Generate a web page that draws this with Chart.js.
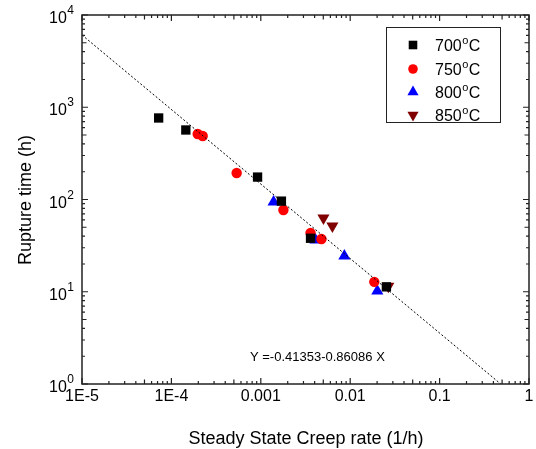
<!DOCTYPE html>
<html>
<head>
<meta charset="utf-8">
<script src="https://cdn.jsdelivr.net/npm/chart.js@4"></script>
<style>
  html, body { margin: 0; padding: 0; background: #fff; }
  #wrap { width: 536px; height: 449px; position: relative; }
</style>
</head>
<body>
<div id="wrap"><canvas id="creepChart" width="536" height="449"></canvas></div>
<script>
// data (creep rate in 1/h, rupture time in h)
const rate700 = [7.2e-5, 1.45e-4, 9.2e-4, 1.7e-3, 3.6e-3, 0.0254];
const time700 = [765, 567, 175, 96, 38, 11.3];
const rate750 = [1.97e-4, 2.24e-4, 5.37e-4, 1.79e-3, 3.6e-3, 4.77e-3, 0.0186];
const time750 = [513, 488, 194, 77, 43.4, 37.3, 12.8];
const rate800 = [1.39e-3, 4.09e-3, 8.6e-3, 0.0201];
const time800 = [94, 36.4, 24.4, 10.2];
const rate850 = [5.02e-3, 6.32e-3, 0.0267];
const time850 = [63, 51.6, 11.5];
const fitRate = [1e-5, 0.483];
const fitTime = [6070, 1];

const seriesLabels = ['700', '750', '800', '850'];
const xTickValues = [1e-5, 1e-4, 1e-3, 1e-2, 1e-1, 1];
const xTickLabels = ['1E-5', '1E-4', '0.001', '0.01', '0.1', '1'];
const yTickValues = [1, 10, 100, 1000, 10000];
const yTickExps = ['0', '1', '2', '3', '4'];
const equationText = 'Y =-0.41353-0.86086 X';

const FONT = '"Liberation Sans", Arial, sans-serif';

function pts(xs, ys) {
    return xs.map((x, i) => ({ x: x, y: ys[i] }));
}

const markerStyles = [
    { color: '#000000', style: 'rect', radius: 6.6, rotation: 0 },
    { color: '#ff0000', style: 'circle', radius: 5.2, rotation: 0 },
    { color: '#0000ff', style: 'triangle', radius: 7, rotation: 0 },
    { color: '#800000', style: 'triangle', radius: 7, rotation: 180 }
];

// frame, inward ticks, tick labels, titles, legend, equation
const decorPlugin = {
    id: 'decor',
    afterDraw(chart) {
        const ctx = chart.ctx;
        const xs = chart.scales.x;
        const ys = chart.scales.y;
        const a = chart.chartArea;
        ctx.save();
        ctx.strokeStyle = '#222';
        ctx.lineWidth = 1.5;
        ctx.strokeRect(a.left, a.top, a.right - a.left, a.bottom - a.top);

        ctx.lineWidth = 1.2;
        // x ticks (bottom & top)
        for (let d = -5; d <= 0; d++) {
            for (let m = 1; m <= 9; m++) {
                const v = m * Math.pow(10, d);
                if (v > 1) break;
                const px = xs.getPixelForValue(v);
                const len = m === 1 ? 6 : (m === 5 ? 4.5 : 3);
                ctx.beginPath();
                ctx.moveTo(px, a.bottom); ctx.lineTo(px, a.bottom - len);
                ctx.moveTo(px, a.top); ctx.lineTo(px, a.top + len);
                ctx.stroke();
            }
        }
        // y ticks (left & right)
        for (let d = 0; d <= 4; d++) {
            for (let m = 1; m <= 9; m++) {
                const v = m * Math.pow(10, d);
                if (v > 10000) break;
                const py = ys.getPixelForValue(v);
                const len = m === 1 ? 6 : (m === 5 ? 4.5 : 3);
                ctx.beginPath();
                ctx.moveTo(a.left, py); ctx.lineTo(a.left + len, py);
                ctx.moveTo(a.right, py); ctx.lineTo(a.right - len, py);
                ctx.stroke();
            }
        }

        ctx.fillStyle = '#000';
        // x tick labels
        ctx.font = '16px ' + FONT;
        ctx.textAlign = 'center';
        ctx.textBaseline = 'alphabetic';
        xTickValues.forEach((v, i) => {
            ctx.fillText(xTickLabels[i], xs.getPixelForValue(v), 401);
        });
        // y tick labels 10^n
        yTickValues.forEach((v, i) => {
            const py = ys.getPixelForValue(v);
            ctx.font = '12px ' + FONT;
            const ew = ctx.measureText(yTickExps[i]).width;
            ctx.textAlign = 'right';
            ctx.fillText(yTickExps[i], 74, py - 1);
            ctx.font = '16px ' + FONT;
            ctx.fillText('10', 74 - ew - 0.5, py + 8);
        });

        // axis titles
        ctx.font = '18px ' + FONT;
        ctx.textAlign = 'center';
        ctx.fillText('Steady State Creep rate (1/h)', 306, 444);
        ctx.save();
        ctx.translate(31, 200);
        ctx.rotate(-Math.PI / 2);
        ctx.fillText('Rupture time (h)', 0, 0);
        ctx.restore();

        // equation
        ctx.font = '13px ' + FONT;
        ctx.textAlign = 'left';
        ctx.fillText(equationText, 250, 361);

        // legend
        ctx.strokeStyle = '#222';
        ctx.lineWidth = 1;
        ctx.strokeRect(386.5, 27.5, 114, 95);
        const rowY = [45, 69, 92, 115];
        seriesLabels.forEach((lab, i) => {
            const st = markerStyles[i];
            ctx.fillStyle = st.color;
            Chart.helpers.drawPoint(ctx, {
                pointStyle: st.style,
                rotation: st.rotation,
                radius: st.radius * 0.92,
                borderWidth: 0
            }, 413, rowY[i]);
            ctx.fillStyle = '#000';
            ctx.font = '16px ' + FONT;
            ctx.textAlign = 'left';
            ctx.fillText(lab, 435, rowY[i] + 6);
            const w = ctx.measureText(lab).width;
            ctx.font = '11px ' + FONT;
            ctx.fillText('o', 435 + w + 0.5, rowY[i] - 1);
            const w2 = ctx.measureText('o').width;
            ctx.font = '16px ' + FONT;
            ctx.fillText('C', 435 + w + w2 + 1, rowY[i] + 6);
        });
        ctx.restore();
    }
};

const dataSets = [
    pts(rate700, time700),
    pts(rate750, time750),
    pts(rate800, time800),
    pts(rate850, time850)
].map((d, i) => ({
    label: seriesLabels[i] + '°C',
    data: d,
    showLine: false,
    pointStyle: markerStyles[i].style,
    rotation: markerStyles[i].rotation,
    pointRadius: markerStyles[i].radius,
    pointHoverRadius: markerStyles[i].radius,
    backgroundColor: markerStyles[i].color,
    borderColor: markerStyles[i].color,
    borderWidth: 0,
    order: 2
}));

dataSets.push({
    label: 'fit',
    data: pts(fitRate, fitTime),
    showLine: true,
    pointRadius: 0,
    borderColor: '#000',
    borderWidth: 1,
    borderDash: [2, 2],
    fill: false,
    order: 1
});

new Chart(document.getElementById('creepChart'), {
    type: 'scatter',
    data: { datasets: dataSets },
    plugins: [decorPlugin],
    options: {
        responsive: false,
        animation: false,
        layout: { padding: { left: 82, top: 15, right: 6, bottom: 65 } },
        plugins: {
            legend: { display: false },
            tooltip: { enabled: false }
        },
        scales: {
            x: { type: 'logarithmic', min: 1e-5, max: 1, display: false },
            y: { type: 'logarithmic', min: 1, max: 10000, display: false }
        }
    }
});
</script>
</body>
</html>
